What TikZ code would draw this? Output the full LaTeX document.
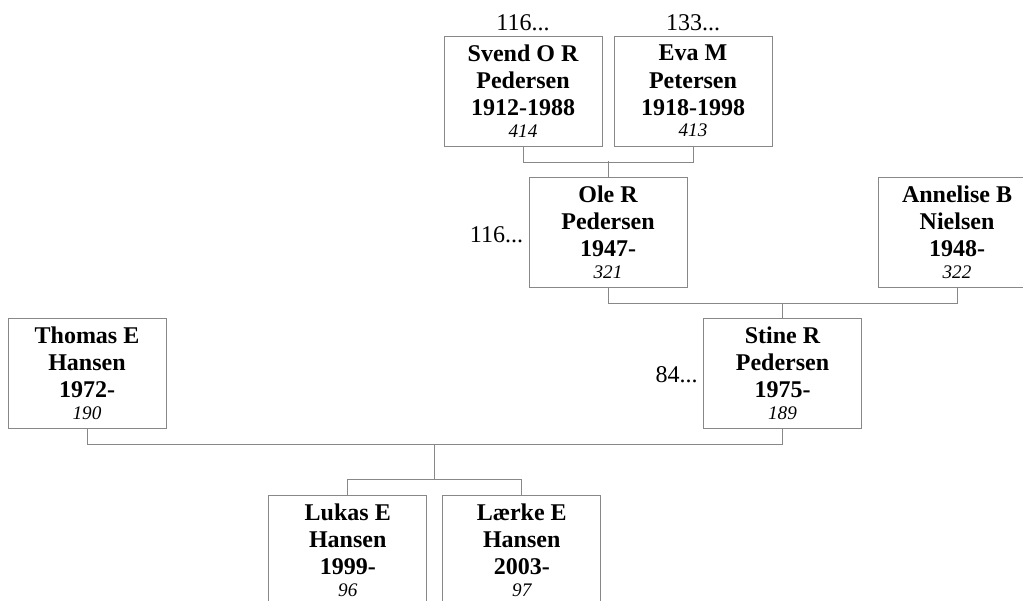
\documentclass[tikz,border=0pt]{standalone}
\usepackage{fontspec}
\setmainfont{Liberation Serif}
\usetikzlibrary{positioning}
\definecolor{rahmen}{HTML}{888888}
\tikzset{
  person/.style={draw=rahmen,line width=0.5pt,fill=white,minimum width=79pt,minimum height=55pt,
    inner sep=0pt,align=center,font=\fontsize{12}{13.6}\selectfont\bfseries},
  linie/.style={rahmen,line width=0.5pt},
  verweis/.style={font=\fontsize{12}{13.6}\selectfont,inner sep=1pt},
}
\newcommand{\pnr}[1]{\\[-3pt]{\fontsize{9.6}{11}\selectfont\mdseries\itshape #1}}
\begin{document}
\begin{tikzpicture}[x=0.5pt,y=-0.5pt]
  \useasboundingbox (0,0) rectangle (1023,600);
  % Grosseltern
  \node[person] (svend) at (523,91) {Svend O R\\Pedersen\\1912-1988\pnr{414}};
  \node[person] (eva) at (693,91) {Eva M\\Petersen\\1918-1998\pnr{413}};
  \node[verweis,above=1pt of svend] (svendref) {116...};
  \node[verweis,above=1pt of eva] (evaref) {133...};
  % Eltern
  \node[person] (ole) at (608,232) {Ole R\\Pedersen\\1947-\pnr{321}};
  \node[person] (annelise) at (957,232) {Annelise B\\Nielsen\\1948-\pnr{322}};
  \node[verweis,left=1.5pt of ole,yshift=-1.5pt] (oleref) {116...};
  % Paar
  \node[person] (thomas) at (87,373) {Thomas E\\Hansen\\1972-\pnr{190}};
  \node[person] (stine) at (782.5,373) {Stine R\\Pedersen\\1975-\pnr{189}};
  \node[verweis,left=1.5pt of stine,yshift=-1pt] (stineref) {84...};
  % Kinder (unten abgeschnitten)
  \node[person] (lukas) at (347.75,550) {Lukas E\\Hansen\\1999-\pnr{96}};
  \node[person] (laerke) at (521.75,550) {Lærke E\\Hansen\\2003-\pnr{97}};
  % Verbindungen
  \draw[linie] (svend.south) -- ++(0,16) -| (eva.south);
  \draw[linie] (ole.north) -- ++(0,-16);
  \draw[linie] (ole.south) -- ++(0,16) -| (annelise.south);
  \draw[linie] (stine.north) -- ++(0,-15);
  \draw[linie] (thomas.south) -- ++(0,16) -| (stine.south);
  \coordinate (ehe) at (434.75,444);
  \coordinate (kinder) at (434.75,480);
  \draw[linie] (ehe) -- (kinder);
  \draw[linie] (lukas.north) -- ++(0,-15) -| (laerke.north);
\end{tikzpicture}
\end{document}
